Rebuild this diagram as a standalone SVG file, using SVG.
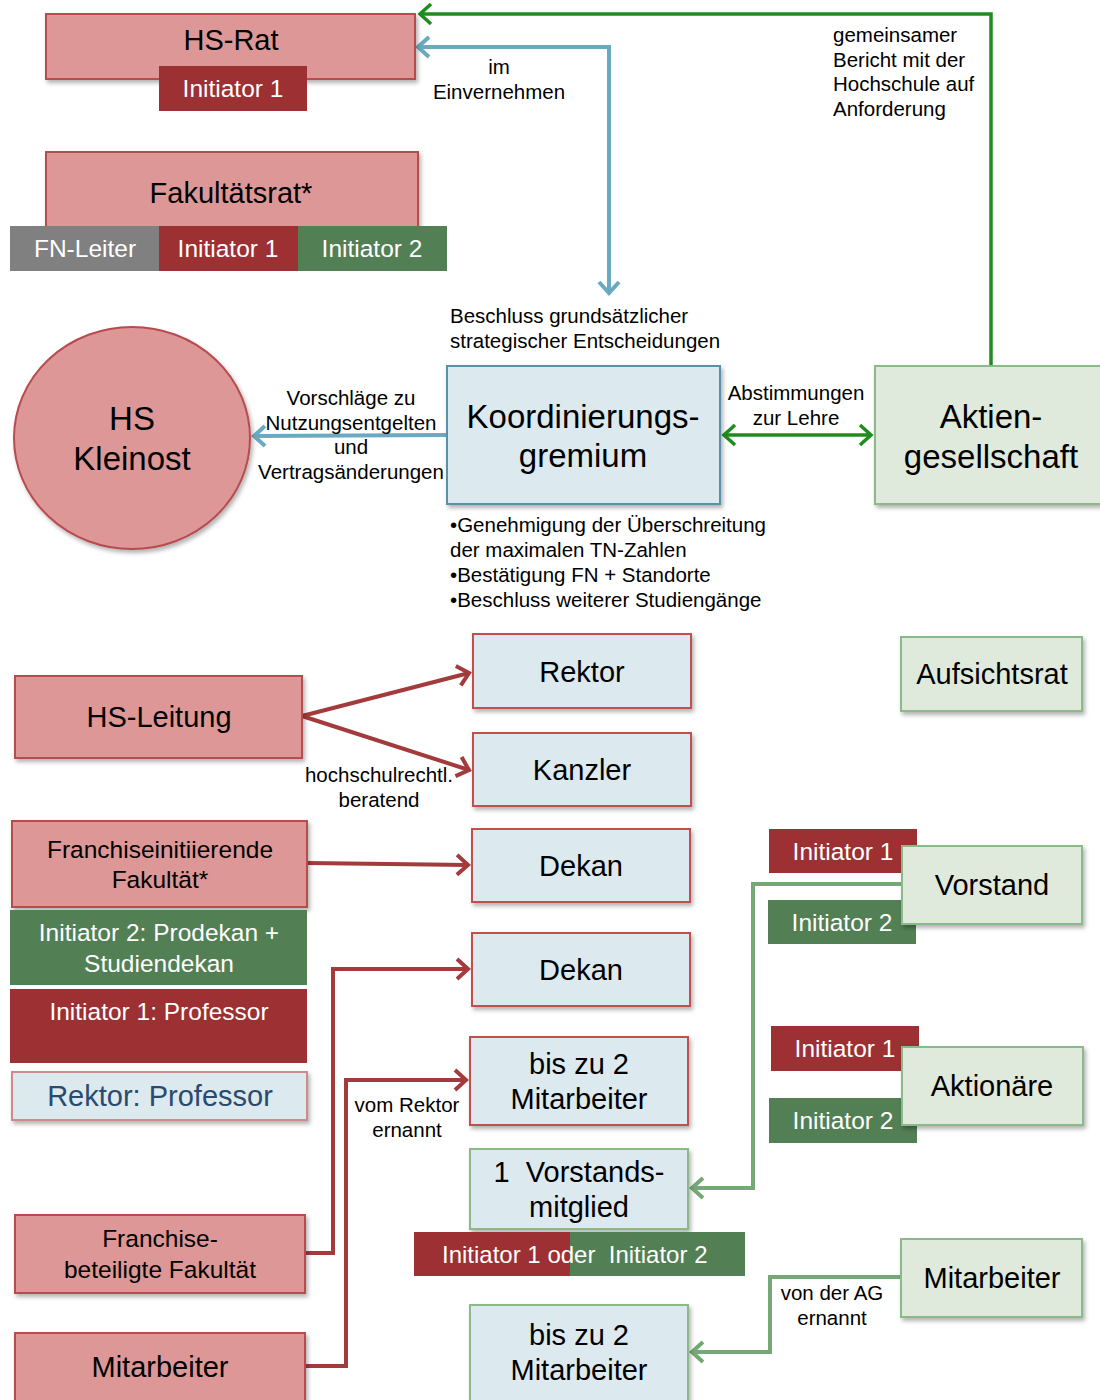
<svg xmlns="http://www.w3.org/2000/svg" width="1100" height="1400" viewBox="0 0 1100 1400">
<defs>
<style>
text{font-family:"Liberation Sans",Arial,sans-serif;fill:#000}
.c{text-anchor:middle}
.w{fill:#fff}
.pink{fill:#dd9797;stroke:#b84b4e;stroke-width:2}
.red{fill:#9c3033}
.grn{fill:#537f55}
.gray{fill:#808080}
.lb{fill:#dce9ef;stroke:#c0504d;stroke-width:2}
.lbb{fill:#dce9ef;stroke:#5b8fa8;stroke-width:2}
.lbg{fill:#dce9ef;stroke:#8cb98a;stroke-width:2}
.lg{fill:#dfeadc;stroke:#8cb98a;stroke-width:2}
.t18{font-size:20.5px}
.t22{font-size:24.5px}
.t26{font-size:29px}
.t32{font-size:33px}
.cg{fill:none;stroke:#1e8c1e;stroke-width:3.5}
.cb{fill:none;stroke:#6aaac0;stroke-width:4}
.cr{fill:none;stroke:#a33a3c;stroke-width:4}
.cl{fill:none;stroke:#76a877;stroke-width:4}
</style>
<filter id="sh" x="-10%" y="-10%" width="130%" height="130%">
<feDropShadow dx="2" dy="3" stdDeviation="2" flood-color="#000" flood-opacity="0.3"/>
</filter>
<marker id="ag" markerUnits="userSpaceOnUse" markerWidth="30" markerHeight="30" refX="15" refY="15" orient="auto-start-reverse" viewBox="0 0 30 30">
<path d="M4,5 L15,15 L4,25" fill="none" stroke="#1e8c1e" stroke-width="3.5"/>
</marker>
<marker id="ab" markerUnits="userSpaceOnUse" markerWidth="30" markerHeight="30" refX="15" refY="15" orient="auto-start-reverse" viewBox="0 0 30 30">
<path d="M4,5 L15,15 L4,25" fill="none" stroke="#6aaac0" stroke-width="4"/>
</marker>
<marker id="ar" markerUnits="userSpaceOnUse" markerWidth="30" markerHeight="30" refX="15" refY="15" orient="auto-start-reverse" viewBox="0 0 30 30">
<path d="M4,5 L15,15 L4,25" fill="none" stroke="#a33a3c" stroke-width="4"/>
</marker>
<marker id="al" markerUnits="userSpaceOnUse" markerWidth="30" markerHeight="30" refX="15" refY="15" orient="auto-start-reverse" viewBox="0 0 30 30">
<path d="M4,5 L15,15 L4,25" fill="none" stroke="#76a877" stroke-width="4"/>
</marker>
</defs>
<rect width="1100" height="1400" fill="#fff"/>

<g id="connectors">
<polyline class="cg" points="991,366 991,14 420,14" marker-end="url(#ag)"/>
<polyline class="cb" points="418,47 609,47 609,293" marker-start="url(#ab)" marker-end="url(#ab)"/>
<line class="cb" x1="447" y1="435" x2="254" y2="436" marker-end="url(#ab)"/>
<line class="cg" x1="724" y1="435" x2="871" y2="435" marker-start="url(#ag)" marker-end="url(#ag)"/>
<line class="cr" x1="302" y1="716" x2="469" y2="673" marker-end="url(#ar)"/>
<line class="cr" x1="302" y1="716" x2="469" y2="770" marker-end="url(#ar)"/>
<line class="cr" x1="307" y1="863" x2="468" y2="865" marker-end="url(#ar)"/>
<polyline class="cr" points="305,1253 333,1253 333,969 468,969" marker-end="url(#ar)"/>
<polyline class="cr" points="305,1366 346,1366 346,1080 466,1080" marker-end="url(#ar)"/>
<polyline class="cl" points="902,884 753,884 753,1188 692,1188" marker-end="url(#al)"/>
<polyline class="cl" points="901,1277 770,1277 770,1352 692,1352" marker-end="url(#al)"/>
</g>

<g id="labels">
<text class="t18 c" x="499" y="74">im</text>
<text class="t18 c" x="499" y="99">Einvernehmen</text>
<text class="t18" x="833" y="42">gemeinsamer</text>
<text class="t18" x="833" y="67">Bericht mit der</text>
<text class="t18" x="833" y="91">Hochschule auf</text>
<text class="t18" x="833" y="116">Anforderung</text>
<text class="t18" x="450" y="323">Beschluss grundsätzlicher</text>
<text class="t18" x="450" y="348">strategischer Entscheidungen</text>
<text class="t18 c" x="351" y="405">Vorschläge zu</text>
<text class="t18 c" x="351" y="430">Nutzungsentgelten</text>
<text class="t18 c" x="351" y="454">und</text>
<text class="t18 c" x="351" y="479">Vertragsänderungen</text>
<text class="t18 c" x="796" y="400">Abstimmungen</text>
<text class="t18 c" x="796" y="425">zur Lehre</text>
<text class="t18" x="450" y="532">•Genehmigung der Überschreitung</text>
<text class="t18" x="450" y="557">der maximalen TN-Zahlen</text>
<text class="t18" x="450" y="582">•Bestätigung FN + Standorte</text>
<text class="t18" x="450" y="607">•Beschluss weiterer Studiengänge</text>
<text class="t18 c" x="379" y="782">hochschulrechtl.</text>
<text class="t18 c" x="379" y="807">beratend</text>
<text class="t18 c" x="407" y="1112">vom Rektor</text>
<text class="t18 c" x="407" y="1137">ernannt</text>
<text class="t18 c" x="832" y="1300">von der AG</text>
<text class="t18 c" x="832" y="1325">ernannt</text>
</g>

<g id="hs-rat">
<rect class="pink" x="46" y="14" width="369" height="65" filter="url(#sh)"/>
<text class="t26 c" x="231" y="50">HS-Rat</text>
<rect class="red" x="159" y="66" width="148" height="45"/>
<text class="t22 c w" x="233" y="97">Initiator 1</text>
</g>

<g id="fakultaetsrat">
<rect class="pink" x="46" y="152" width="372" height="76" filter="url(#sh)"/>
<text class="t26 c" x="231" y="203">Fakultätsrat*</text>
<rect class="gray" x="10" y="226" width="149" height="45"/>
<text class="t22 c w" x="85" y="257">FN-Leiter</text>
<rect class="red" x="159" y="226" width="139" height="45"/>
<text class="t22 c w" x="228" y="257">Initiator 1</text>
<rect class="grn" x="298" y="226" width="149" height="45"/>
<text class="t22 c w" x="372" y="257">Initiator 2</text>
</g>

<g id="hs-kleinost">
<ellipse cx="132" cy="438" rx="118" ry="111" fill="#dd9797" stroke="#b84b4e" stroke-width="2" filter="url(#sh)"/>
<text class="t32 c" x="132" y="430">HS</text>
<text class="t32 c" x="132" y="470">Kleinost</text>
</g>

<g id="koordinierungsgremium">
<rect class="lbb" x="447" y="366" width="273" height="138" filter="url(#sh)"/>
<text class="t32 c" x="583" y="428">Koordinierungs-</text>
<text class="t32 c" x="583" y="467">gremium</text>
</g>

<g id="aktiengesellschaft">
<rect class="lg" x="875" y="366" width="235" height="138" filter="url(#sh)"/>
<text class="t32 c" x="991" y="428">Aktien-</text>
<text class="t32 c" x="991" y="468">gesellschaft</text>
</g>

<g id="hs-leitung">
<rect class="pink" x="15" y="676" width="287" height="82" filter="url(#sh)"/>
<text class="t26 c" x="159" y="727">HS-Leitung</text>
</g>

<g id="rektor">
<rect class="lb" x="473" y="634" width="218" height="74" filter="url(#sh)"/>
<text class="t26 c" x="582" y="682">Rektor</text>
</g>

<g id="kanzler">
<rect class="lb" x="473" y="733" width="218" height="73" filter="url(#sh)"/>
<text class="t26 c" x="582" y="780">Kanzler</text>
</g>

<g id="aufsichtsrat">
<rect class="lg" x="901" y="637" width="181" height="74" filter="url(#sh)"/>
<text class="t26 c" x="992" y="684">Aufsichtsrat</text>
</g>

<g id="franchiseinitiierende-fakultaet">
<rect class="pink" x="12" y="821" width="295" height="86" filter="url(#sh)"/>
<text class="t22 c" x="160" y="858">Franchiseinitiierende</text>
<text class="t22 c" x="160" y="888">Fakultät*</text>
<rect class="grn" x="10" y="910" width="297" height="75"/>
<text class="t22 c w" x="159" y="941">Initiator 2: Prodekan +</text>
<text class="t22 c w" x="159" y="972">Studiendekan</text>
<rect class="red" x="10" y="989" width="297" height="74"/>
<text class="t22 c w" x="159" y="1020">Initiator 1: Professor</text>
<rect x="12" y="1072" width="295" height="48" fill="#dce9ef" stroke="#d08a8a" stroke-width="2" filter="url(#sh)"/>
<text class="t26 c" x="160" y="1106" style="fill:#2a4a6e">Rektor: Professor</text>
</g>

<g id="dekan-1">
<rect class="lb" x="472" y="829" width="218" height="73" filter="url(#sh)"/>
<text class="t26 c" x="581" y="876">Dekan</text>
</g>

<g id="dekan-2">
<rect class="lb" x="472" y="933" width="218" height="73" filter="url(#sh)"/>
<text class="t26 c" x="581" y="980">Dekan</text>
</g>

<g id="mitarbeiter-rektor">
<rect class="lb" x="470" y="1037" width="218" height="88" filter="url(#sh)"/>
<text class="t26 c" x="579" y="1074">bis zu 2</text>
<text class="t26 c" x="579" y="1109">Mitarbeiter</text>
</g>

<g id="vorstandsmitglied">
<rect class="lbg" x="470" y="1149" width="218" height="80" filter="url(#sh)"/>
<text class="t26 c" x="579" y="1182" xml:space="preserve">1  Vorstands-</text>
<text class="t26 c" x="579" y="1217">mitglied</text>
<rect class="red" x="414" y="1232" width="156" height="44"/>
<rect class="grn" x="570" y="1232" width="175" height="44"/>
<text x="442" y="1263" xml:space="preserve" style="font-size:24px;fill:#fff">Initiator 1 oder  Initiator 2</text>
</g>

<g id="mitarbeiter-ag">
<rect class="lbg" x="470" y="1305" width="218" height="105" filter="url(#sh)"/>
<text class="t26 c" x="579" y="1345">bis zu 2</text>
<text class="t26 c" x="579" y="1380">Mitarbeiter</text>
</g>

<g id="vorstand">
<rect class="red" x="769" y="829" width="148" height="44"/>
<text class="t22 c w" x="843" y="860">Initiator 1</text>
<rect class="grn" x="768" y="900" width="148" height="44"/>
<text class="t22 c w" x="842" y="931">Initiator 2</text>
<rect class="lg" x="902" y="846" width="180" height="78" filter="url(#sh)"/>
<text class="t26 c" x="992" y="895">Vorstand</text>
</g>

<g id="aktionaere">
<rect class="red" x="771" y="1026" width="148" height="45"/>
<text class="t22 c w" x="845" y="1057">Initiator 1</text>
<rect class="grn" x="769" y="1098" width="148" height="45"/>
<text class="t22 c w" x="843" y="1129">Initiator 2</text>
<rect class="lg" x="902" y="1047" width="181" height="78" filter="url(#sh)"/>
<text class="t26 c" x="992" y="1096">Aktionäre</text>
</g>

<g id="mitarbeiter-rechts">
<rect class="lg" x="901" y="1239" width="181" height="78" filter="url(#sh)"/>
<text class="t26 c" x="992" y="1288">Mitarbeiter</text>
</g>

<g id="franchise-beteiligte-fakultaet">
<rect class="pink" x="15" y="1215" width="290" height="78" filter="url(#sh)"/>
<text class="t22 c" x="160" y="1247">Franchise-</text>
<text class="t22 c" x="160" y="1278">beteiligte Fakultät</text>
</g>

<g id="mitarbeiter-links">
<rect class="pink" x="15" y="1333" width="290" height="80" filter="url(#sh)"/>
<text class="t26 c" x="160" y="1377">Mitarbeiter</text>
</g>
</svg>
